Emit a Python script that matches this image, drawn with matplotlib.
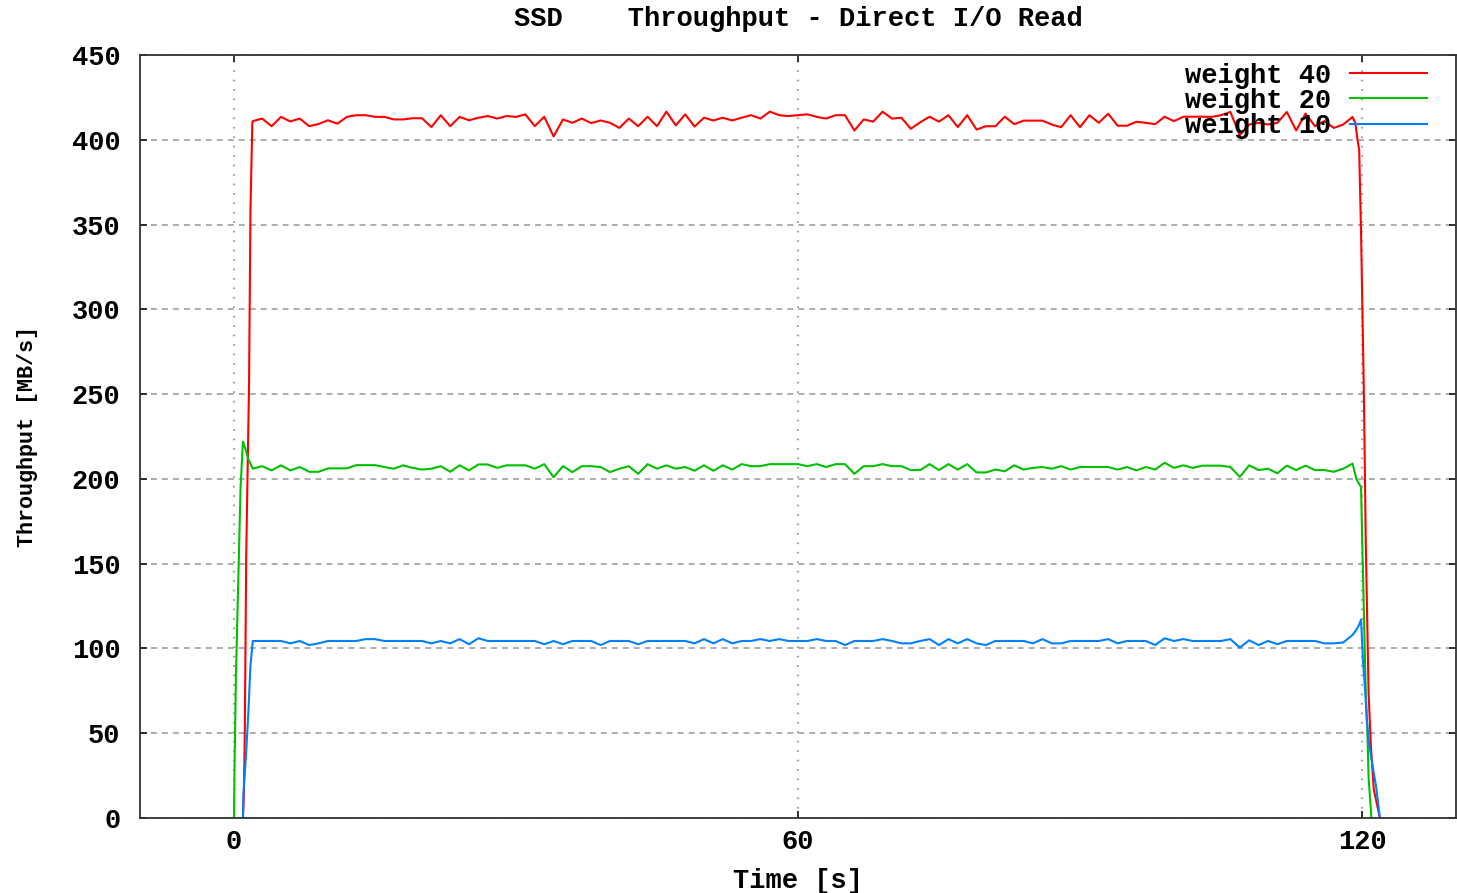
import matplotlib
matplotlib.use("Agg")
import matplotlib.pyplot as plt
import numpy as np

# one sample per second over the steady part of the run
steady_t = list(range(2, 120))

# weight 40
red_rise_t = [0.95, 1.05, 1.15, 1.3, 1.6, 1.75, 1.95]
red_rise = [0, 14, 51, 155, 256, 358, 410]
red_steady = [
    411, 412.5, 408, 413.5, 410.8, 412.5, 408, 409.3, 411.5, 409.5,
    413.5, 414.5, 414.5, 413.5, 413.5, 412, 412, 412.7, 412.7, 407.5,
    414.5, 408, 413.5, 411.5, 413, 414, 412.5, 414, 413.5, 415,
    408, 413.6, 402, 412, 410, 412.5, 409.8, 411.4, 410, 407,
    412.5, 408, 413.6, 408, 416.6, 408.5, 415, 407.8, 413, 411.4,
    413, 411.4, 413, 414.5, 412.5, 416.6, 414.5, 414, 414.5, 415,
    413.5, 412.5, 414.5, 414.5, 405.5, 412, 410.7, 416.6, 412.5, 413,
    406.5, 410.3, 413.6, 410.7, 414.5, 407.5, 414.5, 406, 408, 408,
    413.6, 409.2, 411.3, 411.3, 411.3, 409, 407.4, 414.5, 407.4, 414.5,
    410, 415.4, 408.3, 408.3, 410.6, 410, 409.2, 413.6, 411, 413.6,
    413.6, 413.6, 413.5, 414.5, 416.4, 402.7, 409, 410, 409, 410,
    416.4, 405.5, 415.5, 408, 411, 407, 409, 413.5,
]
red_fall_t = [119.3, 119.5, 119.7, 119.9, 120.2, 120.4, 120.7, 120.95, 121.25, 121.6, 121.9]
red_fall = [409.6, 400.8, 394, 345, 250, 163, 74, 42, 17, 8, 0]

# weight 20
green_rise_t = [0.0, 0.05, 0.2, 0.45, 0.7, 0.95, 1.2, 1.5]
green_rise = [0, 27, 83, 138, 195, 222, 218, 212]
green_steady = [
    206, 207.5, 205, 208, 205, 207, 204.2, 204.2, 206.2, 206.2,
    206.2, 208.1, 208.1, 208.1, 207, 206, 208, 206.5, 205.5, 206,
    207.5, 204.2, 208, 205, 208.5, 208.5, 206.5, 208, 208, 208,
    206, 208.7, 201, 207.5, 204, 207.5, 207.5, 207, 204, 206,
    207.5, 203, 208.7, 206, 208, 206, 207, 204.8, 208, 204.8,
    208, 205.5, 208.7, 207.5, 207.5, 208.7, 208.7, 208.7, 208.7, 207.5,
    208.7, 207, 208.7, 208.7, 203, 207.5, 207.5, 208.7, 207.5, 207.5,
    205.2, 205.2, 208.7, 205.2, 208.7, 205.5, 208.7, 203.8, 203.8, 205.5,
    204.5, 208, 205.5, 206.5, 207, 206, 207.5, 205.5, 207, 207,
    207, 207, 205.5, 207, 205, 207, 205.5, 209.5, 206.5, 208,
    206.5, 207.8, 207.8, 207.8, 207, 201.2, 208, 205.2, 206, 203.3,
    207.8, 205.2, 207.8, 205.2, 205.2, 204.2, 206, 209,
]
green_fall_t = [119.4, 119.9, 120.0, 120.2, 120.4, 120.55, 120.7, 121.0]
green_fall = [200, 195, 169, 121, 74, 55, 24, 0]

# weight 10
blue_rise_t = [0.95, 1.0, 1.3, 1.55, 1.75]
blue_rise = [0, 14, 39, 65, 90]
blue_steady = [
    104.4, 104.4, 104.4, 104.4, 103, 104.4, 102, 103, 104.4, 104.4,
    104.4, 104.4, 105.5, 105.5, 104.4, 104.4, 104.4, 104.4, 104.4, 103,
    104.4, 103, 105.5, 102.5, 106, 104.4, 104.4, 104.4, 104.4, 104.4,
    104.4, 102.5, 104.4, 102.5, 104.4, 104.4, 104.4, 102, 104.4, 104.4,
    104.4, 102.5, 104.4, 104.4, 104.4, 104.4, 104.4, 103, 105.5, 103,
    105.5, 103, 104.4, 104.4, 105.5, 104.4, 105.5, 104.4, 104.4, 104.4,
    105.5, 104.4, 104.4, 102, 104.4, 104.4, 104.4, 105.5, 104.4, 103,
    103, 104.4, 105.5, 102, 105.5, 103, 105.5, 103, 102, 104.4,
    104.4, 104.4, 104.4, 103, 105.5, 103, 103, 104.4, 104.4, 104.4,
    104.4, 105.5, 103, 104.4, 104.4, 104.4, 102, 106, 104.4, 105.5,
    104.4, 104.4, 104.4, 104.4, 105.5, 100.5, 104.8, 102, 104.4, 102.5,
    104.4, 104.4, 104.4, 104.4, 103, 103, 103.5, 108,
]
blue_fall_t = [119.4, 119.7, 119.9, 120.1, 120.35, 120.5, 120.8, 121.15, 121.5, 121.9]
blue_fall = [111, 114, 117, 93, 74, 58, 42, 30, 18.5, 0]

series = [
    ("weight 40", "#ff0000", red_rise_t, red_rise, red_steady, red_fall_t, red_fall),
    ("weight 20", "#00c000", green_rise_t, green_rise, green_steady, green_fall_t, green_fall),
    ("weight 10", "#0080ff", blue_rise_t, blue_rise, blue_steady, blue_fall_t, blue_fall),
]

plt.rcParams["font.family"] = ["Liberation Mono", "DejaVu Sans Mono"]
plt.rcParams["font.weight"] = "bold"
plt.rcParams["font.size"] = 19.5
plt.rcParams["lines.scale_dashes"] = False

fig = plt.figure(figsize=(14.57, 8.93), dpi=100)
ax = fig.add_axes([140 / 1457, 75 / 893, 1316 / 1457, 763 / 893])

for label, color, rt, rv, sv, ft, fv in series:
    t = np.concatenate([rt, steady_t, ft])
    v = np.concatenate([rv, sv, fv])
    ax.plot(t, v, color=color, lw=1.5, label=label)

ax.set_xlim(-10, 130)
ax.set_ylim(0, 450)
ax.set_xticks([0, 60, 120])
ax.set_yticks(np.arange(0, 451, 50))

ax.yaxis.grid(True, color="#a0a0a0", lw=1.2, linestyle=(0, (4.3, 3.6)))
ax.xaxis.grid(True, color="#a0a0a0", lw=1.5, linestyle=(0, (1.2, 5.6)))
ax.set_axisbelow(True)

for sp in ax.spines.values():
    sp.set_color("#333333")
    sp.set_linewidth(1.3)
ax.tick_params(direction="in", length=5, width=1.3, top=True, right=True,
               color="#222222", labelsize=19.5)
ax.tick_params(axis="x", pad=8)
ax.tick_params(axis="y", pad=14)

ax.set_title("SSD    Throughput - Direct I/O Read", pad=21, fontsize=19.5,
             fontweight="bold")
ax.set_xlabel("Time [s]", labelpad=9, fontweight="bold")
ax.set_ylabel("Throughput [MB/s]", labelpad=24, fontsize=15.7,
              fontweight="bold")

ax.legend(loc="upper right", bbox_to_anchor=(0.978, 0.99), frameon=False,
          markerfirst=False, handlelength=2.85, handletextpad=0.7,
          labelspacing=-0.03, borderpad=0, borderaxespad=0)

fig.savefig("out.png", dpi=100)
plt.close(fig)
